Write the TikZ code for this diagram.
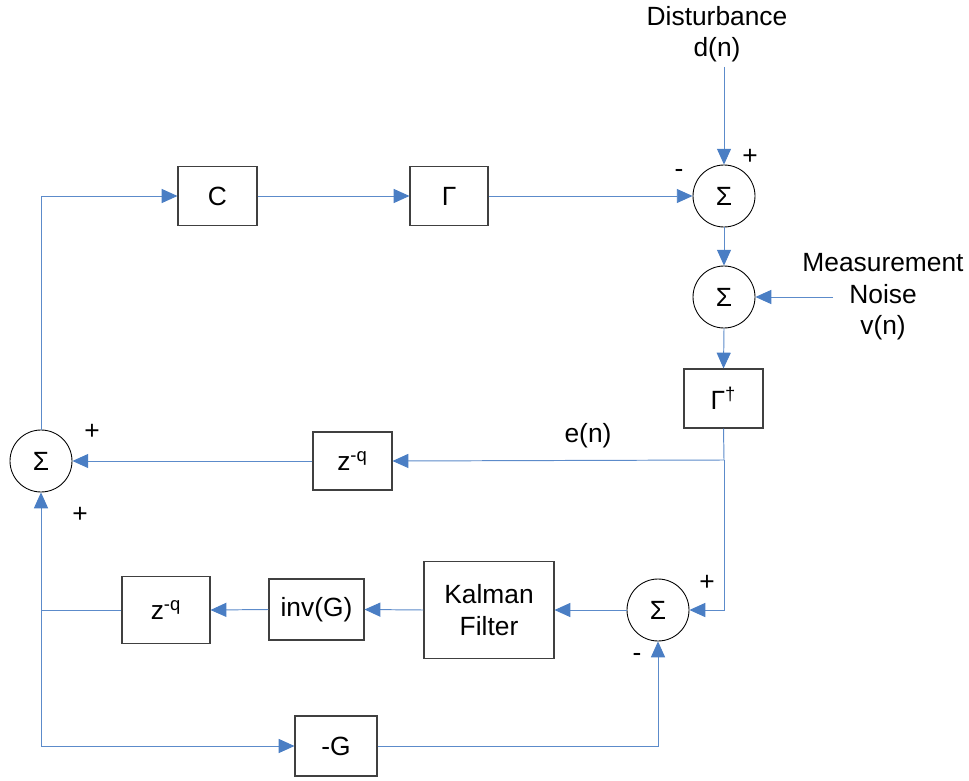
\documentclass[tikz,border=0pt]{standalone}
\usepackage{fontspec}
\setmainfont{Liberation Sans}
\usetikzlibrary{arrows.meta}
\definecolor{sigblue}{HTML}{4A7EC4}

\begin{document}
\begin{tikzpicture}[x=0.02cm,y=-0.02cm,
    font=\fontsize{15}{18}\selectfont,
    blk/.style n args={2}{draw=black!75,line width=0.6pt,minimum width=#1,minimum height=#2,inner sep=0pt},
    sumc/.style={draw=black,circle,line width=0.5pt,minimum size=1.24cm,inner sep=0pt},
    sig/.style={sigblue!90,line width=0.55pt},
    sigarr/.style={sig,-{Triangle[length=9pt,width=8pt,color=sigblue]}}]
            \useasboundingbox (0,0) rectangle (969,780);
            % summing points
            \node[sumc] (s1) at (724,196) {Σ};
            \node[sumc] (s2) at (724,297) {Σ};
            \node[sumc] (s3) at (41,461) {Σ};
            \node[sumc] (s4) at (658,610) {Σ};
            % blocks
            \node[blk={1.58cm}{1.18cm}] (c) at (217.5,196) {C};
            \node[blk={1.56cm}{1.18cm}] (g) at (449,196) {Γ};
            \node[blk={1.58cm}{1.18cm}] (gd) at (723.5,398.5) {Γ\textsuperscript{†}};
            \node[blk={1.58cm}{1.16cm}] (zq1) at (352.5,461) {z\textsuperscript{-q}};
            \node[blk={1.76cm}{1.34cm}] (zq2) at (166,610) {z\textsuperscript{-q}};
            \node[blk={1.9cm}{1.22cm}] (inv) at (316.5,609.5) {inv(G)};
            \node[blk={2.6cm}{1.94cm},align=center] (kf) at (489,610) {Kalman\\Filter};
            \node[blk={1.64cm}{1.2cm}] (ng) at (336,746) {-G};
            % inputs and labels
            \node[align=center] (dist) at (717,34) {Disturbance\\d(n)};
            \node[align=center] (noise) at (883,297) {Measurement\\Noise\\v(n)};
            \node (en) at (588,436) {e(n)};
            \coordinate (dtop) at (724,67);
            \coordinate (ntail) at (833,297);
            \coordinate (ej) at (724,460);
            \coordinate (jn) at (41,610);
            % signs
            \node (m1) at (679,173) {-};
            \node (p1) at (750,157) {+};
            \node (p3a) at (92,432) {+};
            \node (p3b) at (80,515) {+};
            \node (p4) at (707,583) {+};
            \node (m4) at (637,657) {-};
            % signal paths
            \draw[sigarr] (dtop) -- (s1.north);
            \draw[sigarr] (s3.north) |- (c.west);
            \draw[sigarr] (c.east) -- (g.west);
            \draw[sigarr] (g.east) -- (s1.west);
            \draw[sigarr] (s1.south) -- (s2.north);
            \draw[sigarr] (ntail) -- (s2.east);
            \draw[sigarr] (s2.south) -- (gd.north);
            \draw[sig] (gd.south) -- (ej);
            \draw[sigarr] (ej) -- (zq1.east);
            \draw[sigarr] (zq1.west) -- (s3.east);
            \draw[sigarr] (ej) |- (s4.east);
            \draw[sigarr] (s4.west) -- (kf.east);
            \draw[sigarr] (kf.west) -- (inv.east);
            \draw[sigarr] (inv.west) -- (zq2.east);
            \draw[sig] (zq2.west) -- (jn);
            \draw[sigarr] (jn) -- (s3.south);
            \draw[sigarr] (jn) |- (ng.west);
            \draw[sigarr] (ng.east) -| (s4.south);
        \end{tikzpicture}
\end{document}
